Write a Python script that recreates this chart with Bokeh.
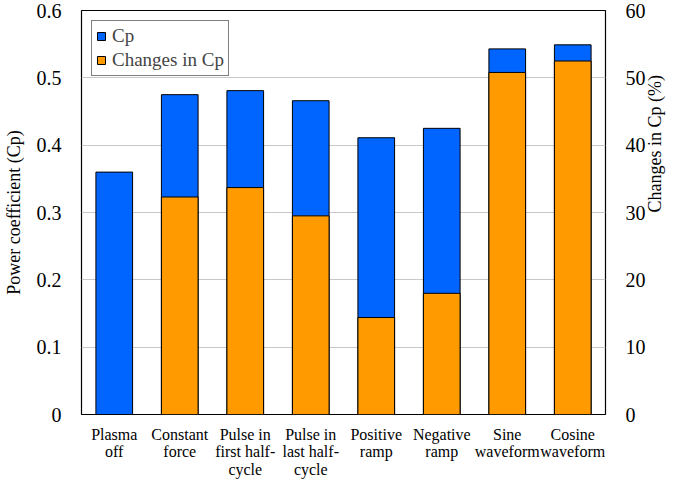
import math
from bokeh.plotting import figure
from bokeh.models import Range1d, LinearAxis, FixedTicker, Legend, LegendItem, ColumnDataSource
from bokeh.embed import file_html
from bokeh.resources import INLINE

categories = ["Plasma\noff", "Constant\nforce", "Pulse in\nfirst half-\ncycle", "Pulse in\nlast half-\ncycle",
              "Positive\nramp", "Negative\nramp", "Sine\nwaveform", "Cosine\nwaveform"]
cp = [0.36, 0.475, 0.481, 0.466, 0.411, 0.425, 0.543, 0.549]
changes = [0.0, 32.3, 33.7, 29.5, 14.4, 18.0, 50.8, 52.5]

xs = list(range(len(categories)))
FONT = "Liberation Serif"

p = figure(width=677, height=481, output_backend="svg", toolbar_location=None,
           x_range=Range1d(-0.5, len(categories) - 0.5), y_range=Range1d(0, 0.6),
           min_border_left=70, min_border_right=70, min_border_top=10, min_border_bottom=60)
p.extra_y_ranges = {"pct": Range1d(0, 60)}

p.outline_line_color = "black"
p.outline_line_width = 1.2
p.xgrid.visible = False
p.ygrid.grid_line_color = "#c8c8c8"
p.ygrid.grid_line_width = 1.2
p.ygrid.ticker = FixedTicker(ticks=[0.1, 0.2, 0.3, 0.4, 0.5])

src = ColumnDataSource(dict(x=xs, cp=cp, ch=changes))
r1 = p.vbar(x="x", top="cp", bottom=0, width=0.56, source=src, fill_color="#0064FF",
            line_color="black", line_width=1)
r2 = p.vbar(x="x", top="ch", bottom=0, width=0.56, source=src, fill_color="#FF9A00",
            line_color="black", line_width=1, y_range_name="pct")

p.xaxis.ticker = FixedTicker(ticks=xs)
p.xaxis.major_label_overrides = {i: c for i, c in enumerate(categories)}
p.xaxis.major_label_text_font = FONT
p.xaxis.major_label_text_font_size = "16px"
p.xaxis.major_label_text_color = "black"
p.xaxis.major_label_text_line_height = 1.05
p.xaxis.major_tick_line_color = None
p.xaxis.minor_tick_line_color = None
p.xaxis.axis_line_color = None
p.xaxis.major_label_standoff = 5

p.yaxis.ticker = FixedTicker(ticks=[0, 0.1, 0.2, 0.3, 0.4, 0.5, 0.6])
p.yaxis.major_label_overrides = {0: "0", 0.1: "0.1", 0.2: "0.2", 0.3: "0.3", 0.4: "0.4", 0.5: "0.5", 0.6: "0.6"}
p.yaxis.axis_label = "Power coefficient (Cp)"

right = LinearAxis(y_range_name="pct", ticker=FixedTicker(ticks=[0, 10, 20, 30, 40, 50, 60]),
                   axis_label="Changes in Cp (%)")
p.add_layout(right, "right")

for ax in [p.yaxis[0], right]:
    ax.major_label_text_font = FONT
    ax.major_label_text_font_size = "20px"
    ax.major_label_text_color = "black"
    ax.axis_label_text_font = FONT
    ax.axis_label_text_font_size = "18px"
    ax.axis_label_text_font_style = "normal"
    ax.axis_label_text_color = "black"
    ax.major_tick_line_color = None
    ax.minor_tick_line_color = None
    ax.axis_line_color = None
    ax.major_label_standoff = 14
    ax.axis_label_standoff = 10

right.major_label_standoff = 14
right.axis_label_standoff = 6
right.axis_label_orientation = math.pi / 2

legend = Legend(items=[LegendItem(label="Cp", renderers=[r1]),
                       LegendItem(label="Changes in Cp", renderers=[r2])],
                location="top_left")
legend.label_text_font = FONT
legend.label_text_font_size = "19px"
legend.border_line_color = "black"
legend.border_line_width = 1
legend.glyph_width = 10
legend.glyph_height = 10
legend.spacing = 2
legend.padding = 4
legend.margin = 10
legend.label_standoff = 6
legend.label_height = 18
p.add_layout(legend)

open("out.html", "w").write(file_html(p, INLINE))
